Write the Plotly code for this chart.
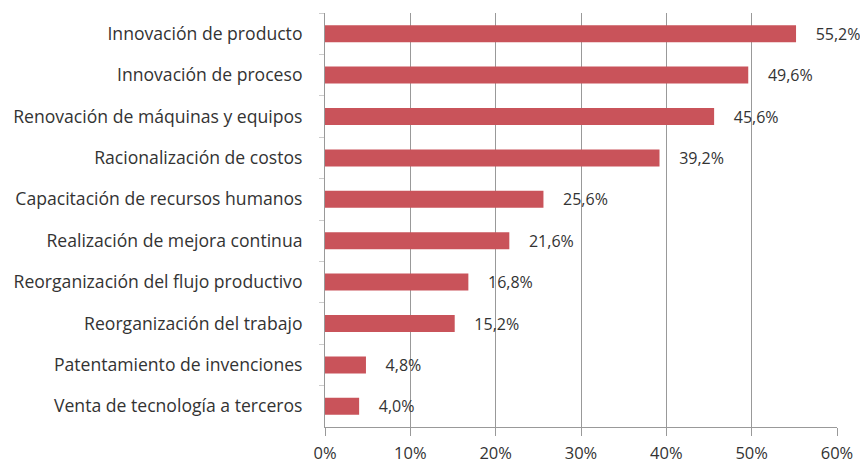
import plotly.graph_objects as go

categories = [
    "Innovación de producto",
    "Innovación de proceso",
    "Renovación de máquinas y equipos",
    "Racionalización de costos",
    "Capacitación de recursos humanos",
    "Realización de mejora continua",
    "Reorganización del flujo productivo",
    "Reorganización del trabajo",
    "Patentamiento de invenciones",
    "Venta de tecnología a terceros",
]
values = [55.2, 49.6, 45.6, 39.2, 25.6, 21.6, 16.8, 15.2, 4.8, 4.0]
labels = ["55,2%", "49,6%", "45,6%", "39,2%", "25,6%", "21,6%", "16,8%", "15,2%", "4,8%", "4,0%"]
tick_vals = [0, 10, 20, 30, 40, 50, 60]
tick_text = ["0%", "10%", "20%", "30%", "40%", "50%", "60%"]

FONT = "Open Sans, sans-serif"

fig = go.Figure(go.Bar(
    y=categories,
    x=values,
    orientation="h",
    text=["    " + t for t in labels],
    textposition="outside",
    constraintext="none",
    cliponaxis=False,
    textfont=dict(family=FONT, size=16, color="#333333"),
    marker=dict(color="#C9535A", line=dict(width=0)),
    width=0.41,
))

fig.update_layout(
    width=868, height=463,
    margin=dict(l=317, r=39, t=5, b=44, autoexpand=False),
    paper_bgcolor="white", plot_bgcolor="white",
    font=dict(family=FONT, size=17, color="#333333"),
    showlegend=False,
)
fig.update_xaxes(
    range=[0, 60], tickvals=tick_vals, ticktext=tick_text,
    showgrid=True, gridcolor="#999999", gridwidth=1,
    showline=True, linecolor="#999999", linewidth=1,
    ticks="outside", ticklen=8, tickcolor="#999999",
    ticklabelstandoff=3,
    zeroline=False, tickfont=dict(family=FONT, size=16.5, color="#333333"),
    automargin=False,
)
fig.update_yaxes(
    autorange="reversed",
    showline=True, linecolor="#999999", linewidth=1,
    ticks="outside", tickson="boundaries", ticklen=5, tickcolor="#cccccc",
    ticklabelstandoff=18,
    tickfont=dict(family=FONT, size=17.6, color="#333333"),
    automargin=False,
)

fig.write_html("out.html")
